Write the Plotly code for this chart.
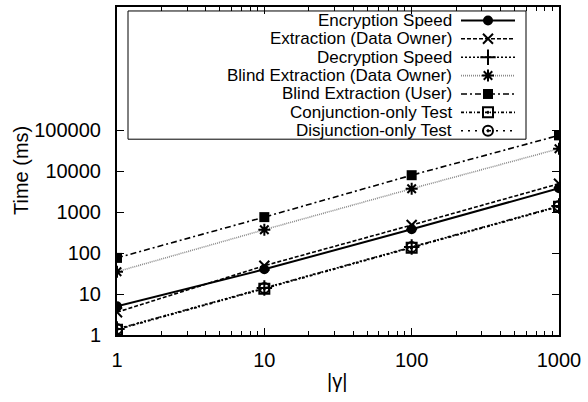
import plotly.graph_objects as go

# ---- data ----
gamma = [1, 10, 100, 1000]
encryption_speed = [5, 40, 380, 3800]
extraction_owner = [3.6, 49, 480, 4900]
decryption_speed = [1.4, 14, 140, 1400]
blind_extraction_owner = [35, 370, 3700, 35000]
blind_extraction_user = [76, 750, 7900, 74000]
conjunction_test = [1.35, 13.5, 135, 1350]
disjunction_test = [1.4, 14, 140, 1400]

series_names = [
    "Encryption Speed",
    "Extraction (Data Owner)",
    "Decryption Speed",
    "Blind Extraction (Data Owner)",
    "Blind Extraction (User)",
    "Conjunction-only Test",
    "Disjunction-only Test",
]
series_values = [
    encryption_speed,
    extraction_owner,
    decryption_speed,
    blind_extraction_owner,
    blind_extraction_user,
    conjunction_test,
    disjunction_test,
]
y_ticks = [1, 10, 100, 1000, 10000, 100000]
x_ticks = [1, 10, 100, 1000]

# ---- styles ----
styles = [
    dict(color="black", dash="solid", width=2, symbol="circle", msize=10, mline=0),
    dict(color="black", dash="4px,2px", width=1.6, symbol="x-thin-open", msize=10, mline=2),
    dict(color="black", dash="2px,2px", width=1.4, symbol="cross-thin-open", msize=11, mline=2),
    dict(color="#8a8a8a", dash="1px,1px", width=1.6, symbol="asterisk-open", msize=10, mline=2),
    dict(color="black", dash="6px,3px,2px,3px", width=1.6, symbol="square", msize=10, mline=0),
    dict(color="black", dash="3px,2px,1px,2px", width=1.6, symbol="square-open-dot", msize=10, mline=2),
    dict(color="black", dash="2px,5px", width=1.6, symbol="circle-open-dot", msize=10, mline=2),
]

FONT = "Liberation Sans, Arial, Helvetica, sans-serif"

# plot area in pixels (for legend placement)
W, H = 588, 402
L, R, T, B = 117, 559, 5, 335
pw, ph = R - L, B - T


def px_x(p):
    return (p - L) / pw


def px_y(p):
    return (B - p) / ph


fig = go.Figure()

for name, vals, st in zip(series_names, series_values, styles):
    fig.add_trace(go.Scatter(
        x=gamma, y=vals, name=name, mode="lines+markers",
        line=dict(color=st["color"], dash=st["dash"], width=st["width"]),
        marker=dict(symbol=st["symbol"], size=st["msize"], color="black",
                    line=dict(color="black", width=st["mline"])),
        showlegend=False,
    ))

# ---- custom legend (text right-aligned, sample on the right) ----
row0, rowstep = 18.5, 18.5
sx0, sx1, sxm = px_x(461), px_x(515), px_x(488)
for i, (name, st) in enumerate(zip(series_names, styles)):
    yy = px_y(row0 + rowstep * i)
    fig.add_trace(go.Scatter(
        x=[sx0, sx1], y=[yy, yy], mode="lines", xaxis="x2", yaxis="y2",
        line=dict(color=st["color"], dash=st["dash"], width=st["width"]),
        showlegend=False, hoverinfo="skip",
    ))
    fig.add_trace(go.Scatter(
        x=[sxm], y=[yy], mode="markers", xaxis="x2", yaxis="y2",
        marker=dict(symbol=st["symbol"], size=st["msize"], color="black",
                    line=dict(color="black", width=st["mline"])),
        showlegend=False, hoverinfo="skip",
    ))
    fig.add_annotation(
        x=px_x(453), y=yy, xref="paper", yref="paper", text=name,
        showarrow=False, xanchor="right", yanchor="middle", borderpad=0,
        font=dict(family=FONT, size=17, color="black"),
    )

fig.add_shape(type="rect", xref="paper", yref="paper",
              x0=px_x(128), x1=px_x(526), y0=px_y(138), y1=px_y(9),
              line=dict(color="black", width=1), fillcolor="rgba(0,0,0,0)", layer="below")

# axis titles
fig.add_annotation(x=px_x(337), y=px_y(381), xref="paper", yref="paper", text="|γ|",
                   showarrow=False, xanchor="center", yanchor="middle",
                   font=dict(family=FONT, size=20, color="black"))
fig.add_annotation(x=px_x(21), y=px_y(170), xref="paper", yref="paper", text="Time (ms)",
                   showarrow=False, xanchor="center", yanchor="middle", textangle=-90,
                   font=dict(family=FONT, size=20, color="black"))

minor_x = [m * 10 ** e for e in range(0, 3) for m in range(2, 10)]

fig.update_layout(
    width=W, height=H,
    margin=dict(l=L, r=W - R, t=T, b=H - B, pad=0),
    paper_bgcolor="white", plot_bgcolor="white",
    font=dict(family=FONT, size=20, color="black"),
    xaxis=dict(
        type="log", range=[0, 3], tickmode="array", tickvals=x_ticks,
        ticktext=[str(v) for v in x_ticks],
        ticks="inside", ticklen=7, tickwidth=1, tickcolor="black",
        showline=True, linecolor="black", linewidth=2, mirror="ticks",
        showgrid=False, zeroline=False, ticklabelstandoff=6,
        minor=dict(tickmode="array", tickvals=minor_x, ticks="inside",
                   ticklen=4, tickwidth=1, tickcolor="black", showgrid=False),
        tickfont=dict(size=20),
    ),
    yaxis=dict(
        type="log", range=[0, 8], tickmode="array", tickvals=y_ticks,
        ticktext=[str(v) for v in y_ticks],
        ticks="inside", ticklen=7, tickwidth=1, tickcolor="black",
        showline=True, linecolor="black", linewidth=2, mirror="ticks",
        showgrid=False, zeroline=False, ticklabelstandoff=10,
        tickfont=dict(size=20),
    ),
    xaxis2=dict(overlaying="x", range=[0, 1], visible=False, anchor="y2", fixedrange=True),
    yaxis2=dict(overlaying="y", range=[0, 1], visible=False, anchor="x2", fixedrange=True),
)

fig.write_html(
    "out.html",
    config={"displayModeBar": False, "staticPlot": True},
    post_script="document.body.style.margin='0';document.body.style.padding='0';",
)
